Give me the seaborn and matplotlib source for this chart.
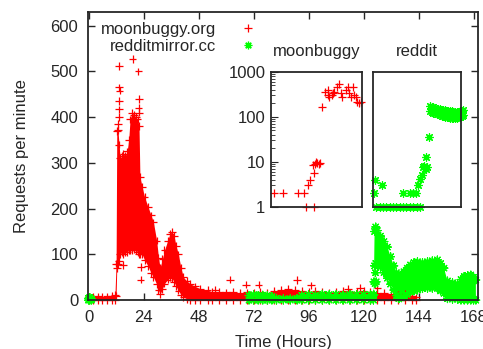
import numpy as np
import pandas as pd
import matplotlib
matplotlib.use("Agg")
import matplotlib.pyplot as plt
import seaborn as sns

# ---- values ----
# moonbuggy.org: the dense cloud, as lower / upper edge at each hour
red_hours = [0, 2, 4, 6, 8, 10, 11.5, 12.0, 12.3, 12.8, 13.3, 13.8, 14.5, 15.2, 16.0,
             16.8, 17.5, 18.1, 19.0, 19.8, 20.6, 21.4, 22.0, 22.4, 23.4, 24.4, 25.9,
             27.3, 28.3, 29.7, 30.5, 31.2, 32.2, 33.1, 34.5, 35.5, 36.3, 37.3, 38.2,
             39.2, 40.3, 41.4, 42.8, 44.3, 46.5, 48.7, 51.9, 54, 57, 60, 63, 66, 69,
             72, 75, 78, 81, 84, 87, 90, 93, 96, 99, 102, 105, 108, 111, 114, 117,
             120, 123, 126, 129, 132, 135, 138, 141, 143]
red_high = [8, 7, 8, 7, 8, 9, 12, 80, 370, 372, 340, 310, 315, 320, 315,
            325, 350, 395, 410, 405, 400, 395, 380, 270, 247, 226, 204,
            185, 170, 130, 93, 71, 90, 109, 130, 145, 150, 140, 118,
            100, 70, 50, 42, 36, 30, 25, 22, 18, 18, 17, 18, 16, 17,
            16, 18, 16, 20, 22, 24, 22, 20, 18, 20, 18, 16, 18, 20, 17, 18,
            20, 18, 16, 16, 14, 12, 14, 10, 6]
red_low = [0, 0, 0, 0, 0, 0, 0, 10, 70, 78, 85, 100, 105, 100, 105,
           105, 110, 110, 110, 112, 110, 105, 100, 100, 100, 88, 75,
           59, 50, 35, 22, 13, 25, 36, 45, 50, 49, 40, 30,
           21, 12, 7, 3, 0, 0, 0, 0, 0, 0, 0, 0, 0, 0,
           0, 0, 0, 0, 0, 0, 0, 0, 0, 0, 0, 0, 0, 0, 0, 0,
           0, 0, 0, 0, 0, 0, 0, 0, 0]
red_out_hours = [13.4, 13.4, 13.5, 13.4, 13.4, 13.3, 12.8, 19.2, 21.7, 21.9, 21.8, 21.9,
                 22.9, 22.7, 15.1, 55.3, 61.6, 68.8, 74.2, 91, 97.1, 113.1, 118.4, 126]
red_out_rate = [512, 465, 458, 435, 417, 400, 385, 527, 500, 440, 420, 410,
                73, 45, 77, 22, 45, 34, 34, 44, 32, 25, 27, 26]

# redditmirror.cc (NaN = no data in between)
green_hours = [0, 0.5, 1.2, np.nan,
               70, 72, 74, 76, 78, 80, 82, 85, 88, 91, 93, 96, 99, 102, 105, 108, 111,
               114, 117, 120, 123, 124.3,
               124.5, 124.8, 125.3, 126, 127.4, 128.9, 130.4, 131.8, 133.2, 134.3, 135.4,
               136.5, 137.6, 139, 140.5, 142, 143.5, 145.7, 147.9, 150, 152.2, 153.6,
               155.1, 156.6, 158.8, 161, 162.5, 163.9, 165.4, 166.8, 168, 169]
green_high = [4, 6, 3, np.nan,
              10, 12, 10, 11, 10, 8, 4, 3, 3, 4, 10, 12, 11, 13, 12, 12, 11,
              13, 12, 12, 12, 10,
              40, 150, 160, 152, 140, 128, 116, 95, 75, 60, 52,
              56, 62, 70, 77, 82, 84, 82, 84, 86, 88, 80,
              70, 42, 38, 36, 45, 52, 54, 55, 50, 44]
green_low = [0, 0, 0, np.nan,
             0, 0, 0, 0, 0, 0, 0, 0, 0, 0, 0, 0, 0, 0, 0, 0, 0,
             0, 0, 0, 0, 0,
             12, 75, 80, 78, 72, 60, 48, 35, 22, 10, 3,
             5, 7, 12, 18, 20, 22, 25, 26, 26, 26, 20,
             15, 3, 2, 2, 0, 0, 0, 0, 0, 0]
green_out_hours = [125, 125.5, 125.2]
green_out_rate = [36, 40, 60]

# insets: the hour around each jump, log scale
moon_min = [2.2, 7.6, 17.9, 21.8, 23.3, 28.4, 24.0, 25.5, 27.9, 27.3, 29.0, 30.5, 31.2,
            29.5, 32.1, 33.8, 35.6, 37.1, 38.2, 37.1, 40.4, 39.9, 41.5, 43.2, 44.3, 45.8,
            46.9, 49.1, 50.2, 51.3, 52.8, 53.9, 54.5, 55.6, 56.7, 57.8, 58.9]
moon_rate = [2, 2, 2, 2, 1, 1, 3, 3.9, 5.7, 8.4, 8.7, 9.2, 8.7,
             10, 9.2, 166, 360, 300, 277, 390, 330, 300, 360, 464, 532, 330,
             277, 390, 464, 330, 277, 464, 300, 277, 215, 197, 215]

reddit_min = [0.7, 1.1, 6.2, 2.3, 4.6, 6.8, 9.1, 11.4, 13.7, 16.0, 18.3, 20.5, 22.8,
              25.1, 27.4, 29.7, 31.9, 20.5, 25.1, 27.4, 29.0, 30.8, 31.9, 33.1, 34.2,
              35.8, 34.9, 36.5, 36.0, 38.1]
reddit_rate = [2, 3.9, 3.0, 1, 1, 1, 1, 1, 1, 1, 1, 1, 1,
               1, 1, 1, 1, 2, 2, 2, 2, 3, 4.2, 5, 7.4,
               6.7, 8, 7.4, 12.9, 35]
reddit_cloud_min = [38.8, 39.9, 41.1, 42.2, 43.3, 44.5, 45.6, 46.8, 47.9, 49.0, 50.2,
                    51.3, 52.5, 53.6, 54.8, 55.9, 57.0, 58.2, 59.3, 60.5, 61.6]
reddit_cloud_top = [175, 165, 160, 155, 150, 148, 145, 142, 140, 138, 135,
                    133, 130, 130, 128, 126, 125, 128, 132, 135, 138]
reddit_cloud_bot = [135, 128, 122, 118, 115, 112, 108, 105, 102, 100, 98,
                    96, 95, 94, 92, 92, 94, 96, 100, 105, 110]

RED = "#ff0000"
GREEN = "#00ff00"

def cloud_points(hours, low, high, xh, xv, site):
    h = list(hours) + list(hours) + list(xh)
    v = list(low) + list(high) + list(xv)
    return pd.DataFrame({"hours": h, "rate": v, "site": site})

df = pd.concat([
    cloud_points(red_hours, red_low, red_high, red_out_hours, red_out_rate, "moonbuggy.org"),
    cloud_points(green_hours, green_low, green_high, green_out_hours, green_out_rate, "redditmirror.cc"),
]).dropna()

sns.set_style("ticks")
plt.rcParams["font.family"] = ["Liberation Sans", "DejaVu Sans"]
plt.rcParams["font.size"] = 12
plt.rcParams["axes.linewidth"] = 1.3

fig = plt.figure(figsize=(4.83, 3.49), dpi=100)
ax = fig.add_axes([0.182, 0.140, 0.808, 0.826])

ax.fill_between(red_hours, red_low, red_high, color=RED, lw=0, zorder=1)
ax.fill_between(green_hours, green_low, green_high, color=GREEN, lw=0, zorder=1.5)
sns.scatterplot(data=df, x="hours", y="rate", hue="site", style="site",
                hue_order=["moonbuggy.org", "redditmirror.cc"],
                palette={"moonbuggy.org": RED, "redditmirror.cc": GREEN},
                markers={"moonbuggy.org": "+", "redditmirror.cc": (8, 2, 0)},
                s=30, linewidth=0.9, clip_on=False, zorder=2, ax=ax)

ax.set_xlim(-0.3, 170)
ax.set_ylim(0, 630)
ax.set_xticks(range(0, 169, 24))
ax.set_yticks(range(0, 601, 100))
ax.tick_params(direction="in", top=True, right=True, length=5, width=1, pad=7, labelsize=12)
ax.set_xlabel("Time (Hours)", fontsize=12, labelpad=7.5)
ax.set_ylabel("Requests per minute", fontsize=12, labelpad=15)

sns.move_legend(ax, "upper right", bbox_to_anchor=(0.454, 0.965), title=None,
                frameon=False, markerfirst=False, handlelength=2, handletextpad=0.95,
                labelspacing=0.1, borderpad=0, borderaxespad=0, fontsize=12)

# inset: moonbuggy
ins1 = fig.add_axes([0.561, 0.408, 0.1894, 0.3868])
sns.scatterplot(x=moon_min, y=moon_rate, marker="+", color=RED, s=30, linewidth=0.9,
                clip_on=False, ax=ins1)
ins1.set_yscale("log")
ins1.set_ylim(1, 1000)
ins1.set_xlim(0, 60)
ins1.set_xticks([])
ins1.set_yticks([1, 10, 100, 1000])
ins1.set_yticklabels(["1", "10", "100", "1000"])
ins1.tick_params(axis="y", which="both", direction="in", left=True, right=False, pad=4, labelsize=12)
ins1.tick_params(axis="y", which="major", length=5)
ins1.tick_params(axis="y", which="minor", length=3)
ins1.set_title("moonbuggy", fontsize=12, pad=11)

# inset: reddit
ins2 = fig.add_axes([0.7723, 0.408, 0.1822, 0.3868])
rx = reddit_min + reddit_cloud_min + reddit_cloud_min
ry = reddit_rate + reddit_cloud_top + reddit_cloud_bot
sns.scatterplot(x=rx, y=ry, marker=(8, 2, 0), color=GREEN, s=30, linewidth=0.9,
                clip_on=False, ax=ins2)
ins2.set_yscale("log")
ins2.set_ylim(1, 1000)
ins2.set_xlim(0, 60)
ins2.set_xticks([])
ins2.set_yticks([])
ins2.minorticks_off()
ins2.set_title("reddit", fontsize=12, pad=11)

fig.savefig("out.png", dpi=100, facecolor="white")
